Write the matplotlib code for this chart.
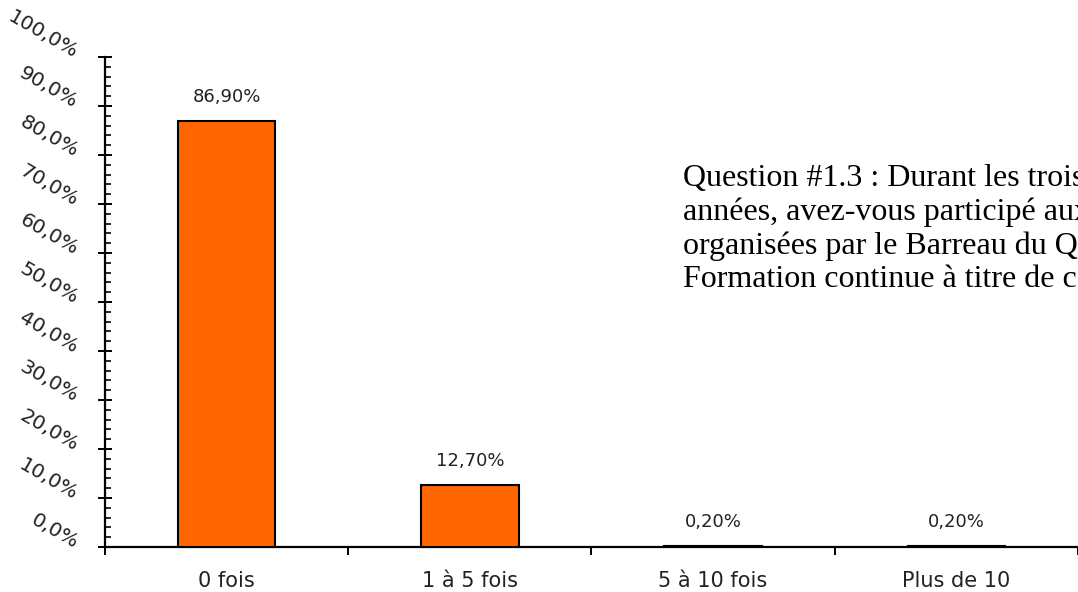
"""Question #1.3 : participation aux activités de formation continue."""
import matplotlib
matplotlib.use("Agg")
import matplotlib.pyplot as plt
import matplotlib.transforms as mtransforms
from matplotlib.ticker import MultipleLocator, FuncFormatter

categories = ["0 fois", "1 à 5 fois", "5 à 10 fois", "Plus de 10"]
values = [86.9, 12.7, 0.2, 0.2]
value_labels = ["86,90%", "12,70%", "0,20%", "0,20%"]
question_lines = [
    "Question #1.3 : Durant les trois dernières",
    "années, avez-vous participé aux activités",
    "organisées par le Barreau du Québec",
    "Formation continue à titre de conférencier ?",
]

ORANGE = "#FF6600"
TXT = "#222222"
plt.rcParams["font.family"] = ["DejaVu Sans"]

fig = plt.figure(figsize=(10.78, 5.92), dpi=100)
ax = fig.add_axes([0.0974, 0.076, 0.9026, 0.8277])

x = list(range(len(categories)))
ax.bar(x, values, width=0.4, color=ORANGE, edgecolor="black", linewidth=1.5, zorder=3)

for xi, v, lab in zip(x, values, value_labels):
    ax.annotate(lab, xy=(xi, v), xytext=(0, 11), textcoords="offset points",
                ha="center", va="bottom", fontsize=13, color=TXT)

ax.set_xlim(-0.5, 3.5)
ax.set_ylim(0, 100)

# axes: only left + bottom
for s in ("top", "right"):
    ax.spines[s].set_visible(False)
ax.spines["left"].set_linewidth(1.6)
ax.spines["bottom"].set_linewidth(1.6)

# x ticks at category boundaries, labels at centres
ax.set_xticks([-0.5, 0.5, 1.5, 2.5, 3.5])
ax.set_xticklabels([])
ax.tick_params(axis="x", which="major", direction="out", length=6, width=1.4)
ax.set_xticks(x, minor=True)
ax.set_xticklabels(categories, minor=True, fontsize=15, color=TXT)
ax.tick_params(axis="x", which="minor", length=0, pad=17)

# y ticks
ax.yaxis.set_major_locator(MultipleLocator(10))
ax.yaxis.set_minor_locator(MultipleLocator(2))
ax.yaxis.set_major_formatter(FuncFormatter(lambda v, p: f"{v:.1f}".replace(".", ",") + "%"))
ax.tick_params(axis="y", which="major", direction="inout", length=10, width=1.4,
               pad=15.5, labelsize=14.5, labelcolor=TXT)
ax.tick_params(axis="y", which="minor", direction="in", length=4, width=1.2)
offset = mtransforms.ScaledTranslation(0, 2 / 72, fig.dpi_scale_trans)
for t in ax.get_yticklabels():
    t.set_rotation(-30)
    t.set_rotation_mode("anchor")
    t.set_ha("right")
    t.set_va("center")
    t.set_transform(t.get_transform() + offset)

# question text, cut by the right edge as in the original export
fig.text(683 / 1078, 1 - 164 / 592, "\n".join(question_lines), ha="left", va="top",
         fontsize=23, family="Liberation Serif", color="black", linespacing=1.2)

fig.savefig("out.png", dpi=100)
